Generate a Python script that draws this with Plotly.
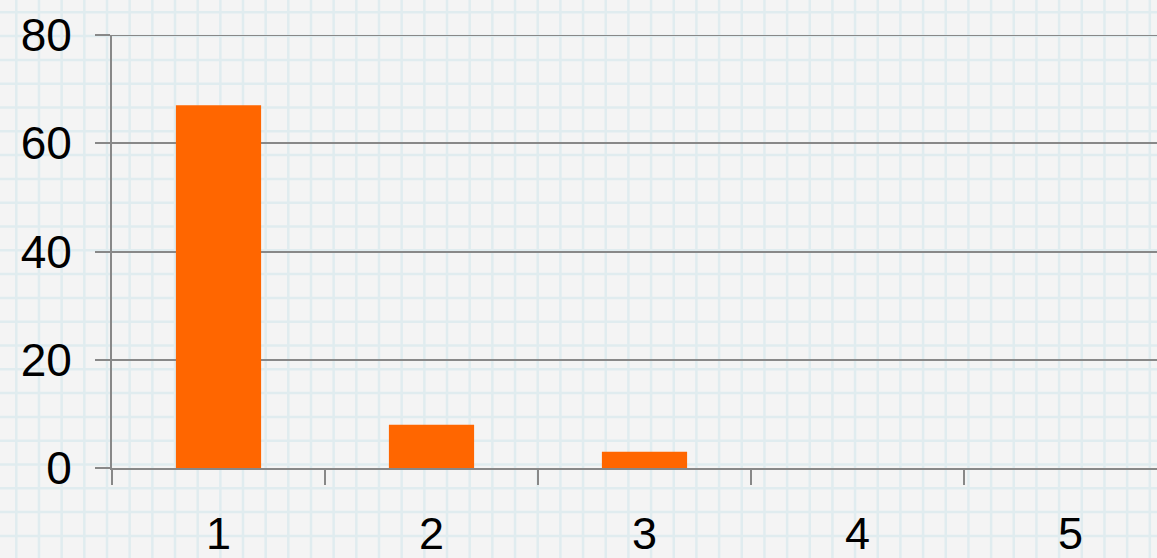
import plotly.graph_objects as go

categories = ["1", "2", "3", "4", "5"]
values = [67, 8, 3, 0, 0]
y_ticks = [0, 20, 40, 60, 80]

W, H = 1157, 558
L, R, T, B = 112, 0, 35, 90
pw = W - L - R
ph = H - T - B

fig = go.Figure()
fig.add_trace(go.Bar(x=categories, y=values, marker_color="#FF6600", width=0.4,
                     marker_line_width=0))

# graph-paper background
shapes = []
grid_col = "#E0ECEF"
x = 16.3
while x < W + 5:
    xp = (x - L) / pw
    shapes.append(dict(type="line", xref="paper", yref="paper", x0=xp, x1=xp,
                       y0=(T + ph - H) / ph, y1=(T + ph) / ph, layer="below",
                       line=dict(color=grid_col, width=2.5)))
    x += 22.67
y = 12.3
while y < H + 5:
    yp = (T + ph - y) / ph
    shapes.append(dict(type="line", xref="paper", yref="paper", y0=yp, y1=yp,
                       x0=-L / pw, x1=(W - L) / pw, layer="below",
                       line=dict(color=grid_col, width=2.5)))
    y += 23.8

# top gridline at the range edge
shapes.append(dict(type="line", xref="paper", yref="y", x0=0, x1=1,
                   y0=y_ticks[-1], y1=y_ticks[-1], layer="above",
                   line=dict(color="#888888", width=2)))

fig.update_layout(
    width=W, height=H,
    margin=dict(l=L, r=R, t=T, b=B, pad=0),
    paper_bgcolor="#F4F4F4",
    plot_bgcolor="rgba(0,0,0,0)",
    showlegend=False,
    shapes=shapes,
    font=dict(family="Liberation Sans, Arial, sans-serif", color="#000000"),
    xaxis=dict(
        type="category",
        range=[-0.5, -0.5 + pw / 213.0],
        showgrid=False,
        showline=True, linecolor="#888888", linewidth=2,
        ticks="outside", tickson="boundaries", ticklen=15, tickwidth=2, tickcolor="#888888",
        tickfont=dict(size=45),
        ticklabelstandoff=25,
        zeroline=False,
    ),
    yaxis=dict(
        range=[0, 80],
        tickvals=y_ticks,
        showgrid=True, gridcolor="#888888", gridwidth=2,
        showline=True, linecolor="#888888", linewidth=2,
        ticks="outside", ticklen=15, tickwidth=2, tickcolor="#888888",
        tickfont=dict(size=46),
        ticklabelstandoff=14,
        zeroline=False,
    ),
)

fig.write_html(
    "out.html",
    config={"displayModeBar": False},
    post_script="document.body.style.margin='0';document.body.style.background='#F4F4F4';document.body.style.overflow='hidden';",
)
